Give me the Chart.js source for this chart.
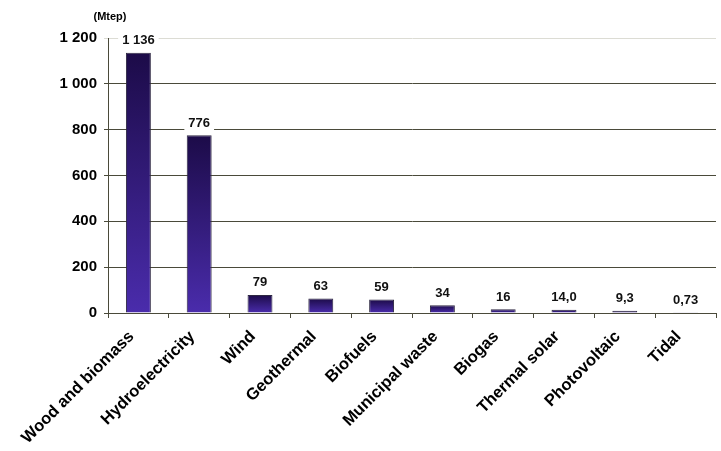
<!DOCTYPE html>
<html>
<head>
<meta charset="utf-8">
<script src="https://cdn.jsdelivr.net/npm/chart.js@4/dist/chart.umd.min.js"></script>
<style>
html,body{margin:0;padding:0;background:#fff;}
#wrap{width:721px;height:451px;position:relative;}
</style>
</head>
<body>
<div id="wrap"><canvas id="c" width="721" height="451"></canvas></div>
<script>
const categories = ["Wood and biomass","Hydroelectricity","Wind","Geothermal","Biofuels","Municipal waste","Biogas","Thermal solar","Photovoltaic","Tidal"];
const values = [1136, 776, 79, 63, 59, 34, 16, 14.0, 9.3, 0.73];
const valueLabels = ["1 136","776","79","63","59","34","16","14,0","9,3","0,73"];
const yTicks = [0, 200, 400, 600, 800, 1000, 1200];
const yTickLabels = ["0","200","400","600","800","1 000","1 200"];
const unitLabel = "(Mtep)";

const FONT = "'Liberation Sans', Arial, sans-serif";

const labelPlugin = {
  id: 'valueLabels',
  afterDatasetsDraw(chart) {
    const ctx = chart.ctx;
    const meta = chart.getDatasetMeta(0);
    ctx.save();
    ctx.font = "bold 13px " + FONT;
    ctx.textAlign = 'center';
    ctx.textBaseline = 'middle';
    meta.data.forEach((bar, i) => {
      const t = valueLabels[i];
      const w = ctx.measureText(t).width;
      const x = bar.x, y = bar.y - 12;
      ctx.fillStyle = '#fff';
      ctx.fillRect(x - w/2 - 4, y - 7, w + 8, 14);
      ctx.fillStyle = '#111';
      ctx.fillText(t, x, y);
    });
    ctx.font = "bold 11px " + FONT;
    ctx.fillStyle = '#000';
    ctx.fillText(unitLabel, 110, 17);
    ctx.restore();
  }
};

new Chart(document.getElementById('c'), {
  type: 'bar',
  data: {
    labels: categories,
    datasets: [{
      data: values,
      backgroundColor(context) {
        const chart = context.chart;
        const area = chart.chartArea;
        if (!area || context.dataIndex === undefined) return '#3a2090';
        const ys = chart.scales.y;
        const v = values[context.dataIndex];
        const top = ys.getPixelForValue(v);
        const bot = ys.getPixelForValue(0);
        if (!isFinite(top) || bot - top < 1) return '#3a2090';
        const g = chart.ctx.createLinearGradient(0, top, 0, bot);
        g.addColorStop(0, '#1c0b48');
        g.addColorStop(1, '#4a2cac');
        return g;
      },
      borderColor: '#2e2842',
      borderWidth: 1,
      barPercentage: 0.82,
      categoryPercentage: 0.5
    }]
  },
  options: {
    responsive: false,
    animation: false,
    events: [],
    layout: { padding: { top: 38, right: 5, left: 0, bottom: 0 } },
    plugins: { legend: { display: false }, tooltip: { enabled: false } },
    scales: {
      x: {
        grid: { display: true, drawOnChartArea: false, drawTicks: true, tickLength: 5, color: '#4a4a3a', offset: true },
        border: { display: true, color: '#4a4a3a', width: 1 },
        ticks: {
          autoSkip: false,
          maxRotation: 45, minRotation: 45,
          color: '#000',
          font: { family: FONT, size: 16.5, weight: 'bold' },
          padding: 9,
          labelOffset: -7
        },
        afterFit(scale) { scale.height = 138; }
      },
      y: {
        min: 0, max: 1200,
        afterBuildTicks(scale) { scale.ticks = yTicks.map(v => ({ value: v })); },
        grid: {
          color(ctx) { return ctx.tick && ctx.tick.value === 1200 ? '#dcdcd4' : '#4a4a3a'; },
          tickLength: 4, drawTicks: true
        },
        border: { display: true, color: '#4a4a3a', width: 1 },
        ticks: {
          color: '#000',
          font: { family: FONT, size: 15, weight: 'bold' },
          padding: 7,
          callback(v) { const i = yTicks.indexOf(v); return i >= 0 ? yTickLabels[i] : ''; }
        },
        afterFit(scale) { scale.width = 108; }
      }
    }
  },
  plugins: [labelPlugin]
});
</script>
</body>
</html>
